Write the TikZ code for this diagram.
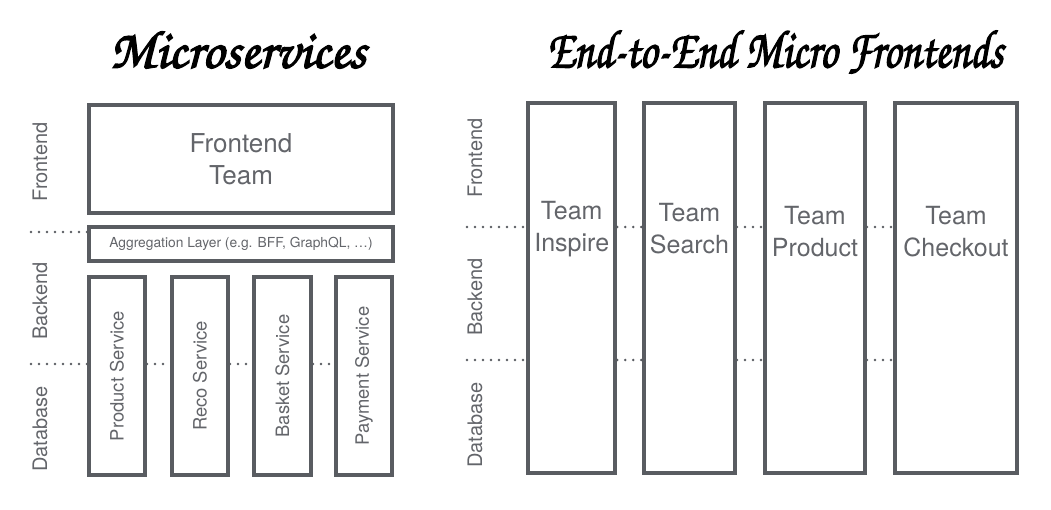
\documentclass[tikz,border=0pt]{standalone}
\usepackage{fontspec}
\setmainfont{TeX Gyre Heros}
\newfontfamily\scriptface[FakeBold=2.5]{texgyrechorus-mediumitalic.otf}
\usepackage{tikz}
\usetikzlibrary{positioning}
\usepackage{xcolor}
\definecolor{boxgray}{HTML}{595C61}
\definecolor{textgray}{HTML}{63656A}
\tikzstyle{box}=[
  draw=boxgray,line width=4pt,inner sep=0pt,text=textgray
]
\tikzstyle{team}=[
  text=textgray,align=center,font=\fontsize{25}{32}\selectfont
]
\tikzstyle{service}=[
  box,font=\fontsize{18.4}{22}\selectfont
]
\tikzstyle{layer}=[
  text=textgray,rotate=90,font=\fontsize{20}{24}\selectfont
]
\tikzstyle{sep}=[
  boxgray,line width=2.8pt,line cap=round,dash pattern=on 0pt off 8pt
]
\tikzstyle{headline}=[
  font=\scriptface\fontsize{54}{58}\selectfont
]

\begin{document}
\begin{tikzpicture}[x=1pt,y=-1pt]
    \useasboundingbox (0,0) rectangle (1051,509);
    % titles
    \node[headline] (ms) at (238,50) {Microservices};
    \node[headline] (mf) at (775,52) {\scalebox{0.81}[1]{End-to-End Micro Frontends}};
    % microservices
    \node[box,team,minimum width=304,minimum height=108,font=\fontsize{26}{32}\selectfont]
      (fe) at (241,159) {Frontend\\Team};
    \node[box,minimum width=304,minimum height=34,font=\fontsize{13.8}{16}\selectfont]
      (agg) at (241,244) {Aggregation Layer (e.g. BFF, GraphQL, \dots)};
    \node[service,minimum width=56,minimum height=198] (ps) at (117,376) {\rotatebox{90}{Product Service}};
    \node[service,minimum width=56,minimum height=198] (reco) at (200,376) {\rotatebox{90}{Reco Service}};
    \node[service,minimum width=57,minimum height=198] (basket) at (282.5,376) {\rotatebox{90}{Basket Service}};
    \node[service,minimum width=56,minimum height=198] (pay) at (364,376) {\rotatebox{90}{Payment Service}};
    \node[layer] (lfront) at (40,162) {Frontend};
    \node[layer] (lback) at (40,301) {Backend};
    \node[layer] (ldb) at (40,429) {Database};
    \coordinate (lfb) at (31,232);
    \coordinate (lbd) at (31,364);
    \draw[sep] (lfb) -- (lfb -| agg.west);
    \draw[sep] (lbd) -- (lbd -| ps.west);
    \foreach \a/\b in {ps/reco,reco/basket,basket/pay}
      \draw[sep] (lbd -| \a.east) -- (lbd -| \b.west);
    % micro frontends
    \node[box,minimum width=87,minimum height=370] (inspire) at (571.75,288) {};
    \node[box,minimum width=91,minimum height=370] (search) at (689.5,288) {};
    \node[box,minimum width=100,minimum height=370] (product) at (815,288) {};
    \node[box,minimum width=122,minimum height=370] (checkout) at (956,288) {};
    \node[team] (tinspire) at (inspire |- 0,229) {Team\\Inspire};
    \node[team] (tsearch) at (search |- 0,229) {Team\\Search};
    \node[team] (tproduct) at (product |- 0,232) {Team\\Product};
    \node[team] (tcheckout) at (checkout |- 0,232) {Team\\Checkout};
    \node[layer] (rfront) at (475,158) {Frontend};
    \node[layer] (rback) at (475,297) {Backend};
    \node[layer] (rdb) at (475,425) {Database};
    \coordinate (rfb) at (467,227);
    \coordinate (rbd) at (467,360);
    \foreach \c in {rfb,rbd}{
      \draw[sep] (\c) -- (\c -| inspire.west);
      \foreach \a/\b in {inspire/search,search/product,product/checkout}
        \draw[sep] (\c -| \a.east) -- (\c -| \b.west);
    }
\end{tikzpicture}
\end{document}
